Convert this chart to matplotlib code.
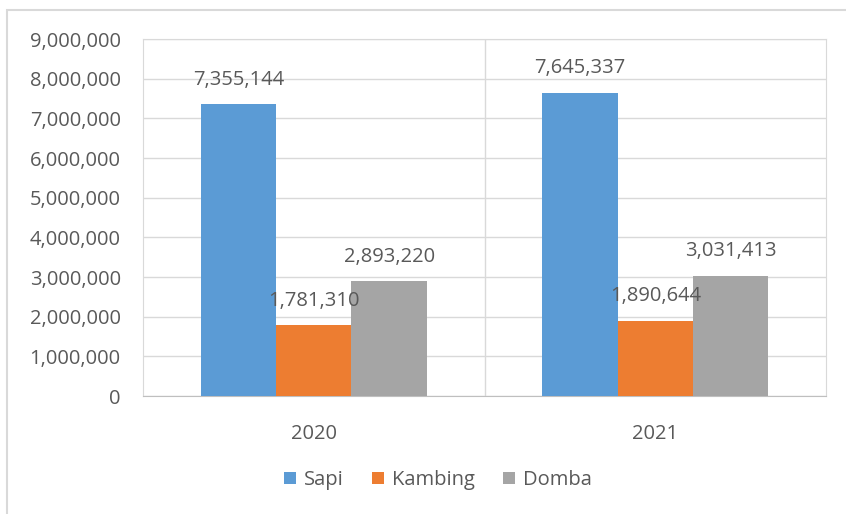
import matplotlib.pyplot as plt
import numpy as np
from matplotlib.patches import Rectangle

years = ["2020", "2021"]
sapi = [7355144, 7645337]
kambing = [1781310, 1890644]
domba = [2893220, 3031413]

series = [("Sapi", sapi, "#5b9bd5"),
          ("Kambing", kambing, "#ed7d31"),
          ("Domba", domba, "#a5a5a5")]

plt.rcParams['font.family'] = ['Open Sans', 'DejaVu Sans']
txt = "#595959"
fs = 14.5

fig = plt.figure(figsize=(8.46, 5.14), dpi=100)
ax = fig.add_axes([143 / 846, 1 - 396 / 514, (826 - 143) / 846, (396 - 39) / 514])

# outer chart frame (top and left edges only show)
fig.patches.append(Rectangle((7 / 846, -0.1), 1.2, 1 - 10 / 514 + 0.1,
                             transform=fig.transFigure, fill=False,
                             edgecolor="#d9d9d9", linewidth=1.5))

x = np.arange(len(years))
w = 0.221
for i, (name, vals, col) in enumerate(series):
    pos = x + (i - 1) * w
    ax.bar(pos, vals, width=w, color=col, label=name, zorder=3)
    for p, v in zip(pos, vals):
        ax.text(p, v + 620000, f"{v:,}", ha="center", va="center",
                fontsize=fs, color=txt, zorder=4)

ax.set_xlim(-0.5, 1.5)
ax.set_ylim(0, 9000000)
ax.set_yticks(np.arange(0, 9000001, 1000000))
ax.set_yticklabels([f"{int(t):,}" for t in ax.get_yticks()])
ax.set_xticks(x)
ax.set_xticklabels(years)
ax.yaxis.grid(True, color="#d9d9d9", linewidth=1, zorder=0)
ax.axvline(0.5, color="#d9d9d9", linewidth=1, zorder=0)
for s in ax.spines.values():
    s.set_color("#d9d9d9")
ax.spines["bottom"].set_color("#bfbfbf")
ax.tick_params(axis="both", length=0, labelsize=fs, colors=txt)
ax.tick_params(axis="y", pad=16)
ax.tick_params(axis="x", pad=20)

leg = fig.legend(loc="center", bbox_to_anchor=(438 / 846, 1 - 480 / 514), ncol=3,
                 frameon=False, fontsize=fs, handlelength=0.6, handleheight=0.6,
                 columnspacing=1.4, handletextpad=0.4)
for t in leg.get_texts():
    t.set_color(txt)

fig.savefig("out.png", dpi=100, facecolor="white")
